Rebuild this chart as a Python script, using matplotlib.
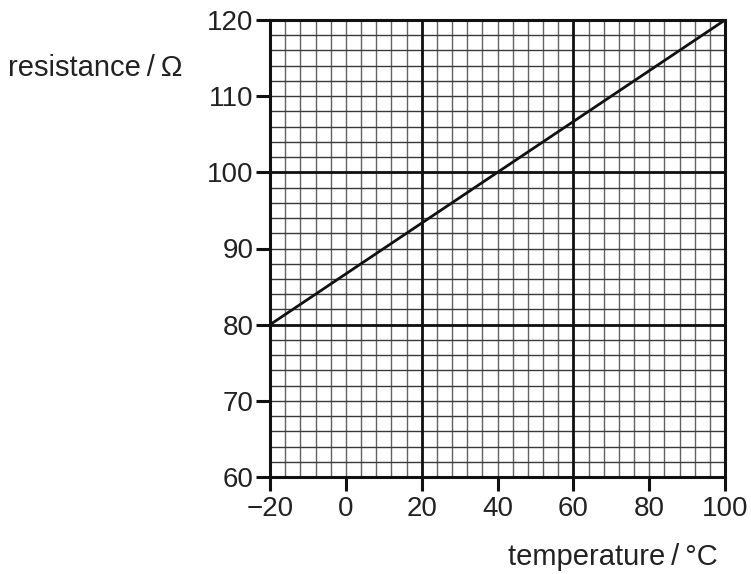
import numpy as np
import matplotlib.pyplot as plt

plt.rcParams['font.family'] = ['Liberation Sans', 'DejaVu Sans']

# graph data
temperature = [-20, 100]
resistance = [80, 120]

x_ticks = [-20, 0, 20, 40, 60, 80, 100]
y_ticks = [60, 70, 80, 90, 100, 110, 120]

fig = plt.figure(figsize=(7.51, 5.74), dpi=100)
ax = fig.add_axes([270/751, 1 - 477/574, 455/751, 457/574])

# graph paper grid: small squares 4 degC x 2 ohm, bold every 10 squares
for gx in np.arange(-20, 101, 4):
    ax.axvline(gx, color='#626262', lw=1.0, zorder=1)
for gy in np.arange(60, 121, 2):
    ax.axhline(gy, color='#3a3a3a', lw=1.0, zorder=1)
for gx in [20, 60]:
    ax.axvline(gx, color='#111111', lw=2.0, zorder=2)
for gy in [80, 100]:
    ax.axhline(gy, color='#111111', lw=2.0, zorder=2)

ax.plot(temperature, resistance, color='#111111', lw=2.0, zorder=3)

ax.set_xlim(-20, 100)
ax.set_ylim(60, 120)
ax.set_xticks(x_ticks)
ax.set_yticks(y_ticks)
ax.tick_params(direction='out', length=10, width=2.2, labelsize=20,
               color='#111111', labelcolor='#222222')
ax.tick_params(axis='y', pad=2)
ax.tick_params(axis='x', pad=4)
for s in ax.spines.values():
    s.set_linewidth(2.2)
    s.set_color('#111111')
    s.set_zorder(4)

fig.text(8/751, 1 - 68/574, 'resistance\u2009/\u2009\u03a9', fontsize=21,
         ha='left', va='center', color='#222222')
fig.text(718/751, 1 - 557/574, 'temperature\u2009/\u2009°C', fontsize=21,
         ha='right', va='center', color='#222222')

fig.savefig('out.png', dpi=100)
